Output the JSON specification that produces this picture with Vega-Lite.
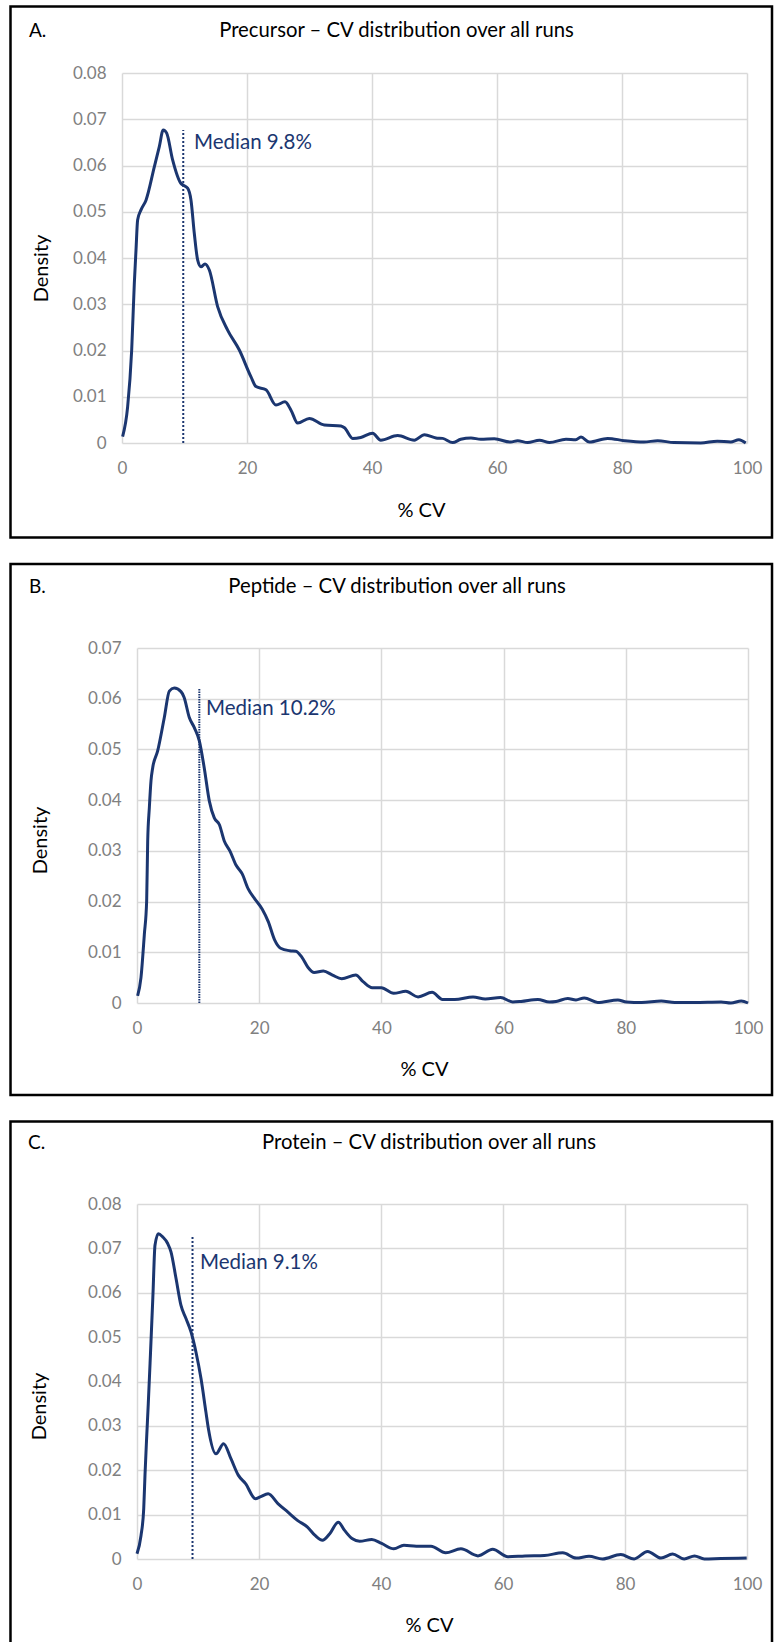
{
  "$schema": "https://vega.github.io/schema/vega-lite/v6.json",
  "padding": {"left": 8, "top": 5, "right": 0, "bottom": 0},
  "spacing": 23,
  "config": {
    "view": {"stroke": null},
    "font": "Lato",
    "axis": {"grid": true, "gridColor": "#d9d9d9", "gridWidth": 1.5, "ticks": false, "domain": false, "labelFont": "Lato", "labelFontSize": 17, "labelColor": "#808080", "titleFont": "Lato", "titleFontSize": 20, "titleFontWeight": "normal", "titleColor": "#000000", "labelFlush": false, "labelOverlap": false}
  },
  "vconcat": [
    {
      "spacing": 0,
      "hconcat": [
        {"width": 1, "height": 1, "data": {"values": [{}]}, "mark": {"type": "text", "text": ""}},
        {
          "width": 625, "height": 370,
          "layer": [
            {
              "data": {"values": [
                {"cv":0.1,"density":0.0014},{"cv":0.9,"density":0.0078},{"cv":1.55,"density":0.0201},{"cv":1.97,"density":0.0345},{"cv":2.24,"density":0.0417},{"cv":2.5,"density":0.0482},{"cv":3.04,"density":0.0504},{"cv":3.84,"density":0.0525},{"cv":5.17,"density":0.0597},{"cv":5.97,"density":0.0641},{"cv":6.6,"density":0.0677},{"cv":7.15,"density":0.067},{"cv":8.1,"density":0.0612},{"cv":9.44,"density":0.0561},{"cv":9.87,"density":0.0557},{"cv":10.5,"density":0.0551},{"cv":11.04,"density":0.0525},{"cv":11.57,"density":0.0453},{"cv":12.1,"density":0.0396},{"cv":12.64,"density":0.0381},{"cv":13.28,"density":0.0387},{"cv":13.97,"density":0.0374},{"cv":15.3,"density":0.0295},{"cv":16.9,"density":0.0244},{"cv":18.77,"density":0.0201},{"cv":20.64,"density":0.0143},{"cv":21.44,"density":0.0122},{"cv":23.04,"density":0.0115},{"cv":24.64,"density":0.0082},{"cv":26.08,"density":0.0089},{"cv":27.04,"density":0.0071},{"cv":28.11,"density":0.0043},{"cv":29.97,"density":0.0053},{"cv":32.37,"density":0.0039},{"cv":35.04,"density":0.0037},{"cv":35.6,"density":0.0033},{"cv":36.9,"density":0.001},{"cv":38.2,"density":0.0012},{"cv":40.1,"density":0.0021},{"cv":41.4,"density":0.0006},{"cv":44.1,"density":0.0016},{"cv":46.77,"density":0.0006},{"cv":48.4,"density":0.0018},{"cv":50.24,"density":0.0011},{"cv":51.3,"density":0.001},{"cv":52.9,"density":0.0001},{"cv":54.2,"density":0.0008},{"cv":55.84,"density":0.0011},{"cv":57.4,"density":0.0008},{"cv":59.57,"density":0.0009},{"cv":62.2,"density":0.0002},{"cv":63.3,"density":0.0005},{"cv":64.9,"density":0.0001},{"cv":66.8,"density":0.0006},{"cv":68.4,"density":0.0001},{"cv":71.04,"density":0.0008},{"cv":72.6,"density":0.0007},{"cv":73.44,"density":0.0013},{"cv":74.77,"density":0.0002},{"cv":77.7,"density":0.001},{"cv":80.4,"density":0.0005},{"cv":83.5,"density":0.0002},{"cv":85.7,"density":0.0005},{"cv":88.3,"density":0.0001},{"cv":92.6,"density":0},{"cv":95.25,"density":0.0004},{"cv":97.4,"density":0.0002},{"cv":98.7,"density":0.0007},{"cv":99.8,"density":0}
              ]},
              "mark": {"type": "line", "interpolate": "monotone", "color": "#1b3670", "strokeWidth": 3},
              "encoding": {
                "x": {"field": "cv", "type": "quantitative", "scale": {"domain": [0, 100], "nice": false, "zero": false},
                      "axis": {"values": [0,20,40,60,80,100], "title": "% CV", "labelPadding": 17, "titleX": 299, "titleY": 67, "titleBaseline": "middle"}},
                "y": {"field": "density", "type": "quantitative", "scale": {"domain": [0, 0.08], "nice": false},
                      "axis": {"values": [0,0.01,0.02,0.03,0.04,0.05,0.06,0.07,0.08], "format": ".2~f", "title": "Density", "labelPadding": 16, "titleX": -81, "titleY": 195, "titleAngle": -90, "titleBaseline": "middle", "titleAlign": "center"}}
              }
            },
            {
              "data": {"values": [{"median": 9.8, "bottom": 0, "top": 0.0677}]},
              "mark": {"type": "rule", "color": "#1b3670", "strokeWidth": 2, "strokeDash": [2, 2]},
              "encoding": {"x": {"field": "median", "type": "quantitative"}, "y": {"field": "bottom", "type": "quantitative"}, "y2": {"field": "top"}}
            },
            {
              "data": {"values": [{"label": "Median 9.8%"}]},
              "mark": {"type": "text", "color": "#1b3670", "font": "Lato", "fontSize": 20.5, "align": "left", "baseline": "alphabetic"},
              "encoding": {"text": {"field": "label", "type": "nominal"}, "x": {"datum": 11.52, "type": "quantitative"}, "y": {"datum": 0.0636, "type": "quantitative"}}
            },
            {
              "data": {"values": [{}]},
              "mark": {"type": "rect", "fill": "transparent", "stroke": "#000000", "strokeWidth": 2.5, "clip": false},
              "encoding": {"x": {"datum": -17.84, "type": "quantitative"}, "x2": {"datum": 104.0}, "y": {"datum": 0.09438, "type": "quantitative"}, "y2": {"datum": -0.02043}}
            },
            {
              "data": {"values": [{}]},
              "mark": {"type": "text", "text": "A.", "font": "Lato", "fontSize": 19, "align": "left", "baseline": "alphabetic", "color": "#000000"},
              "encoding": {"x": {"datum": -14.88, "type": "quantitative"}, "y": {"datum": 0.0877, "type": "quantitative"}}
            },
            {
              "data": {"values": [{}]},
              "mark": {"type": "text", "text": "Precursor – CV distribution over all runs", "font": "Lato", "fontSize": 20.3, "align": "center", "baseline": "alphabetic", "color": "#000000"},
              "encoding": {"x": {"datum": 43.92, "type": "quantitative"}, "y": {"datum": 0.0877, "type": "quantitative"}}
            }
          ]
        }
      ]
    },
    {
      "spacing": 0,
      "hconcat": [
        {"width": 1, "height": 1, "data": {"values": [{}]}, "mark": {"type": "text", "text": ""}},
        {
          "width": 611, "height": 355,
          "layer": [
            {
              "data": {"values": [
                {"cv":0.1,"density":0.0014},{"cv":0.65,"density":0.005},{"cv":1.2,"density":0.0135},{"cv":1.58,"density":0.0201},{"cv":1.75,"density":0.0319},{"cv":2.02,"density":0.0385},{"cv":2.29,"density":0.0438},{"cv":2.57,"density":0.0464},{"cv":3.38,"density":0.0497},{"cv":4.47,"density":0.0563},{"cv":5.29,"density":0.0615},{"cv":6.1,"density":0.0621},{"cv":7.2,"density":0.0614},{"cv":7.7,"density":0.0603},{"cv":8.56,"density":0.0563},{"cv":9.38,"density":0.0543},{"cv":10.2,"density":0.0517},{"cv":11.0,"density":0.0464},{"cv":11.84,"density":0.0398},{"cv":12.65,"density":0.0365},{"cv":13.47,"density":0.0352},{"cv":14.3,"density":0.0319},{"cv":15.2,"density":0.03},{"cv":16.2,"density":0.0272},{"cv":17.2,"density":0.0255},{"cv":18.2,"density":0.0225},{"cv":19.3,"density":0.0205},{"cv":20.5,"density":0.0185},{"cv":21.5,"density":0.016},{"cv":22.5,"density":0.0125},{"cv":23.5,"density":0.0108},{"cv":25,"density":0.0103},{"cv":26,"density":0.0102},{"cv":27,"density":0.009},{"cv":28,"density":0.007},{"cv":29,"density":0.006},{"cv":30.5,"density":0.0063},{"cv":32,"density":0.0055},{"cv":33.5,"density":0.0048},{"cv":35.8,"density":0.0055},{"cv":37,"density":0.0042},{"cv":38.5,"density":0.003},{"cv":40,"density":0.003},{"cv":42,"density":0.0019},{"cv":44,"density":0.0023},{"cv":46,"density":0.0012},{"cv":48.3,"density":0.0021},{"cv":50,"density":0.0007},{"cv":52,"density":0.0007},{"cv":55,"density":0.0012},{"cv":57,"density":0.0008},{"cv":59.5,"density":0.0011},{"cv":61.5,"density":0.0002},{"cv":62.85,"density":0.0003},{"cv":65.6,"density":0.0007},{"cv":67.5,"density":0.0002},{"cv":68.6,"density":0.0003},{"cv":70.5,"density":0.0009},{"cv":71.85,"density":0.0006},{"cv":73.2,"density":0.001},{"cv":75.4,"density":0.0001},{"cv":78.7,"density":0.0006},{"cv":80.1,"density":0.0002},{"cv":82.6,"density":0.0001},{"cv":85.8,"density":0.0004},{"cv":88,"density":0.0001},{"cv":91.2,"density":0.0001},{"cv":95.6,"density":0.0002},{"cv":97.2,"density":0},{"cv":98.9,"density":0.0004},{"cv":100,"density":0}
              ]},
              "mark": {"type": "line", "interpolate": "monotone", "color": "#1b3670", "strokeWidth": 3},
              "encoding": {
                "x": {"field": "cv", "type": "quantitative", "scale": {"domain": [0, 100], "nice": false, "zero": false},
                      "axis": {"values": [0,20,40,60,80,100], "title": "% CV", "labelPadding": 17, "titleX": 287, "titleY": 66, "titleBaseline": "middle"}},
                "y": {"field": "density", "type": "quantitative", "scale": {"domain": [0, 0.07], "nice": false},
                      "axis": {"values": [0,0.01,0.02,0.03,0.04,0.05,0.06,0.07], "format": ".2~f", "title": "Density", "labelPadding": 16, "titleX": -96.5, "titleY": 192, "titleAngle": -90, "titleBaseline": "middle", "titleAlign": "center"}}
              }
            },
            {
              "data": {"values": [{"median": 10.2, "bottom": 0, "top": 0.0619}]},
              "mark": {"type": "rule", "color": "#1b3670", "strokeWidth": 2, "strokeDash": [1.5, 1]},
              "encoding": {"x": {"field": "median", "type": "quantitative"}, "y": {"field": "bottom", "type": "quantitative"}, "y2": {"field": "top"}}
            },
            {
              "data": {"values": [{"label": "Median 10.2%"}]},
              "mark": {"type": "text", "color": "#1b3670", "font": "Lato", "fontSize": 20.5, "align": "left", "baseline": "alphabetic"},
              "encoding": {"text": {"field": "label", "type": "nominal"}, "x": {"datum": 11.3, "type": "quantitative"}, "y": {"datum": 0.0568, "type": "quantitative"}}
            },
            {
              "data": {"values": [{}]},
              "mark": {"type": "rect", "fill": "transparent", "stroke": "#000000", "strokeWidth": 2.5, "clip": false},
              "encoding": {"x": {"datum": -20.7, "type": "quantitative"}, "x2": {"datum": 103.93}, "y": {"datum": 0.08656, "type": "quantitative"}, "y2": {"datum": -0.01814}}
            },
            {
              "data": {"values": [{}]},
              "mark": {"type": "text", "text": "B.", "font": "Lato", "fontSize": 19, "align": "left", "baseline": "alphabetic", "color": "#000000"},
              "encoding": {"x": {"datum": -17.68, "type": "quantitative"}, "y": {"datum": 0.0809, "type": "quantitative"}}
            },
            {
              "data": {"values": [{}]},
              "mark": {"type": "text", "text": "Peptide – CV distribution over all runs", "font": "Lato", "fontSize": 20.3, "align": "center", "baseline": "alphabetic", "color": "#000000"},
              "encoding": {"x": {"datum": 42.57, "type": "quantitative"}, "y": {"datum": 0.0809, "type": "quantitative"}}
            }
          ]
        }
      ]
    },
    {
      "spacing": 0,
      "hconcat": [
        {"width": 1, "height": 1, "data": {"values": [{}]}, "mark": {"type": "text", "text": ""}},
        {
          "width": 610, "height": 355,
          "layer": [
            {
              "data": {"values": [
                {"cv":0,"density":0.0012},{"cv":0.66,"density":0.0053},{"cv":1.1,"density":0.0113},{"cv":1.31,"density":0.0189},{"cv":1.55,"density":0.0264},{"cv":1.85,"density":0.035},{"cv":2.2,"density":0.046},{"cv":2.6,"density":0.059},{"cv":2.95,"density":0.0707},{"cv":3.5,"density":0.0733},{"cv":4.2,"density":0.0726},{"cv":5.03,"density":0.0711},{"cv":5.57,"density":0.0692},{"cv":6.4,"density":0.0632},{"cv":7.2,"density":0.0572},{"cv":8.03,"density":0.0542},{"cv":8.85,"density":0.0512},{"cv":9.67,"density":0.0466},{"cv":10.5,"density":0.0406},{"cv":11.3,"density":0.0331},{"cv":11.7,"density":0.0294},{"cv":12.95,"density":0.0237},{"cv":14.2,"density":0.026},{"cv":15.4,"density":0.0226},{"cv":16.6,"density":0.0189},{"cv":17.8,"density":0.017},{"cv":19.4,"density":0.0136},{"cv":20.2,"density":0.014},{"cv":21.5,"density":0.0147},{"cv":23.1,"density":0.0125},{"cv":24.7,"density":0.0106},{"cv":26.3,"density":0.0087},{"cv":27.95,"density":0.0072},{"cv":29.2,"density":0.0053},{"cv":30.4,"density":0.0042},{"cv":31.6,"density":0.0057},{"cv":33.0,"density":0.0083},{"cv":34.0,"density":0.0065},{"cv":35.25,"density":0.0046},{"cv":36.5,"density":0.004},{"cv":38.5,"density":0.0044},{"cv":40.1,"density":0.0035},{"cv":42.1,"density":0.0023},{"cv":43.75,"density":0.0031},{"cv":45.8,"density":0.0029},{"cv":48.2,"density":0.0029},{"cv":50.6,"density":0.0014},{"cv":53.1,"density":0.0023},{"cv":55.9,"density":0.0007},{"cv":58.3,"density":0.0022},{"cv":60.8,"density":0.0005},{"cv":63.6,"density":0.0007},{"cv":66.8,"density":0.0008},{"cv":69.8,"density":0.0014},{"cv":72.0,"density":0.0002},{"cv":74.1,"density":0.0006},{"cv":76.3,"density":0},{"cv":79.3,"density":0.001},{"cv":81.5,"density":0},{"cv":83.7,"density":0.0017},{"cv":85.9,"density":0.0002},{"cv":87.8,"density":0.0011},{"cv":89.7,"density":0},{"cv":91.4,"density":0.0007},{"cv":93,"density":0},{"cv":95.7,"density":0.0001},{"cv":99.95,"density":0.0002}
              ]},
              "mark": {"type": "line", "interpolate": "monotone", "color": "#1b3670", "strokeWidth": 3},
              "encoding": {
                "x": {"field": "cv", "type": "quantitative", "scale": {"domain": [0, 100], "nice": false, "zero": false},
                      "axis": {"values": [0,20,40,60,80,100], "title": "% CV", "labelPadding": 17, "titleX": 292, "titleY": 66, "titleBaseline": "middle"}},
                "y": {"field": "density", "type": "quantitative", "scale": {"domain": [0, 0.08], "nice": false},
                      "axis": {"values": [0,0.01,0.02,0.03,0.04,0.05,0.06,0.07,0.08], "format": ".2~f", "title": "Density", "labelPadding": 16, "titleX": -98, "titleY": 202, "titleAngle": -90, "titleBaseline": "middle", "titleAlign": "center"}}
              }
            },
            {
              "data": {"values": [{"median": 9.1, "bottom": 0, "top": 0.0729}]},
              "mark": {"type": "rule", "color": "#1b3670", "strokeWidth": 2, "strokeDash": [2, 2]},
              "encoding": {"x": {"field": "median", "type": "quantitative"}, "y": {"field": "bottom", "type": "quantitative"}, "y2": {"field": "top"}}
            },
            {
              "data": {"values": [{"label": "Median 9.1%"}]},
              "mark": {"type": "text", "color": "#1b3670", "font": "Lato", "fontSize": 20.5, "align": "left", "baseline": "alphabetic"},
              "encoding": {"text": {"field": "label", "type": "nominal"}, "x": {"datum": 10.33, "type": "quantitative"}, "y": {"datum": 0.0654, "type": "quantitative"}}
            },
            {
              "data": {"values": [{}]},
              "mark": {"type": "rect", "fill": "transparent", "stroke": "#000000", "strokeWidth": 2.5, "clip": false},
              "encoding": {"x": {"datum": -20.74, "type": "quantitative"}, "x2": {"datum": 104.1}, "y": {"datum": 0.09859, "type": "quantitative"}, "y2": {"datum": -0.02434}}
            },
            {
              "data": {"values": [{}]},
              "mark": {"type": "text", "text": "C.", "font": "Lato", "fontSize": 19, "align": "left", "baseline": "alphabetic", "color": "#000000"},
              "encoding": {"x": {"datum": -17.87, "type": "quantitative"}, "y": {"datum": 0.0924, "type": "quantitative"}}
            },
            {
              "data": {"values": [{}]},
              "mark": {"type": "text", "text": "Protein – CV distribution over all runs", "font": "Lato", "fontSize": 20.3, "align": "center", "baseline": "alphabetic", "color": "#000000"},
              "encoding": {"x": {"datum": 47.87, "type": "quantitative"}, "y": {"datum": 0.0925, "type": "quantitative"}}
            }
          ]
        }
      ]
    }
  ]
}
